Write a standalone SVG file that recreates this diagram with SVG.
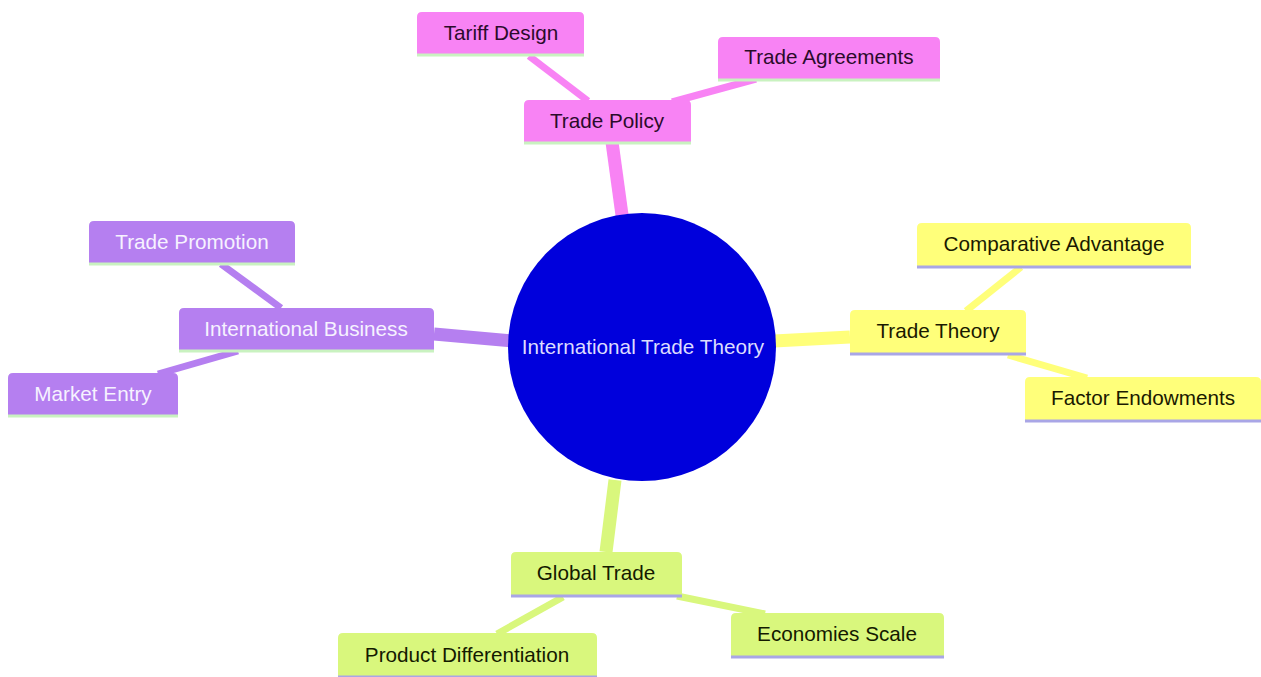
<svg xmlns="http://www.w3.org/2000/svg" width="1261" height="677" viewBox="0 0 1261 677">
<style>
text{font-family:"Liberation Sans",Arial,sans-serif;font-size:20.7px;text-anchor:middle}
.pink{fill:#f883f4}.pinkt{fill:#2b0b2b}
.purp{fill:#b57ff0}.purpt{fill:#f6f2ff}
.yel{fill:#ffff7a}.yelt{fill:#1a1a00}
.grn{fill:#d9f77d}.grnt{fill:#141a00}
.bl-g{stroke:#c9f2c0;stroke-width:3}
.bl-l{stroke:#a9a6e6;stroke-width:3}
.e{fill:none;stroke-linecap:butt}
.e0{stroke-width:13}.e1{stroke-width:7}
</style>
<rect width="1261" height="677" fill="#ffffff"/>
<g id="connectors">
<line class="e e0" x1="622" y1="215" x2="612" y2="142" stroke="#f883f4"/>
<line class="e e1" x1="588" y1="101" x2="529" y2="56" stroke="#f883f4"/>
<line class="e e1" x1="672" y1="102" x2="756" y2="79" stroke="#f883f4"/>
<line class="e e0" x1="512" y1="341" x2="434" y2="334" stroke="#b57ff0"/>
<line class="e e1" x1="281" y1="308" x2="221" y2="264" stroke="#b57ff0"/>
<line class="e e1" x1="238" y1="351" x2="158" y2="374" stroke="#b57ff0"/>
<line class="e e0" x1="774" y1="341" x2="850" y2="337" stroke="#ffff7a"/>
<line class="e e1" x1="966" y1="311" x2="1021" y2="267" stroke="#ffff7a"/>
<line class="e e1" x1="1008" y1="355" x2="1087" y2="378" stroke="#ffff7a"/>
<line class="e e0" x1="615" y1="480" x2="606" y2="552" stroke="#d9f77d"/>
<line class="e e1" x1="563" y1="597" x2="497" y2="634" stroke="#d9f77d"/>
<line class="e e1" x1="677" y1="596" x2="765" y2="614" stroke="#d9f77d"/>
</g>
<g id="root">
<circle cx="642" cy="347" r="134" fill="#0000dc"/>
<text x="643" y="354" fill="#dcdcff">International Trade Theory</text>
</g>
<g id="trade-policy">
<path class="pink" d="M524 142V105q0-5 5-5h157q5 0 5 5v37z"/>
<line class="bl-g" x1="524" y1="143" x2="691" y2="143"/>
<text class="pinkt" x="607" y="128">Trade Policy</text>
</g>
<g id="tariff-design">
<path class="pink" d="M417 54V17q0-5 5-5h157q5 0 5 5v37z"/>
<line class="bl-g" x1="417" y1="55" x2="584" y2="55"/>
<text class="pinkt" x="501" y="40">Tariff Design</text>
</g>
<g id="trade-agreements">
<path class="pink" d="M718 79V42q0-5 5-5h212q5 0 5 5v37z"/>
<line class="bl-g" x1="718" y1="80" x2="940" y2="80"/>
<text class="pinkt" x="829" y="64">Trade Agreements</text>
</g>
<g id="international-business">
<path class="purp" d="M179 350V313q0-5 5-5h245q5 0 5 5v37z"/>
<line class="bl-g" x1="179" y1="351" x2="434" y2="351"/>
<text class="purpt" x="306" y="336">International Business</text>
</g>
<g id="trade-promotion">
<path class="purp" d="M89 263V226q0-5 5-5h196q5 0 5 5v37z"/>
<line class="bl-g" x1="89" y1="264" x2="295" y2="264"/>
<text class="purpt" x="192" y="249">Trade Promotion</text>
</g>
<g id="market-entry">
<path class="purp" d="M8 415V378q0-5 5-5h160q5 0 5 5v37z"/>
<line class="bl-g" x1="8" y1="416" x2="178" y2="416"/>
<text class="purpt" x="93" y="401">Market Entry</text>
</g>
<g id="trade-theory">
<path class="yel" d="M850 353V315q0-5 5-5h166q5 0 5 5v38z"/>
<line class="bl-l" x1="850" y1="354" x2="1026" y2="354"/>
<text class="yelt" x="938" y="338">Trade Theory</text>
</g>
<g id="comparative-advantage">
<path class="yel" d="M917 266V228q0-5 5-5h264q5 0 5 5v38z"/>
<line class="bl-l" x1="917" y1="267" x2="1191" y2="267"/>
<text class="yelt" x="1054" y="251">Comparative Advantage</text>
</g>
<g id="factor-endowments">
<path class="yel" d="M1025 420V382q0-5 5-5h226q5 0 5 5v38z"/>
<line class="bl-l" x1="1025" y1="421" x2="1261" y2="421"/>
<text class="yelt" x="1143" y="405">Factor Endowments</text>
</g>
<g id="global-trade">
<path class="grn" d="M511 595V557q0-5 5-5h161q5 0 5 5v38z"/>
<line class="bl-l" x1="511" y1="596" x2="682" y2="596"/>
<text class="grnt" x="596" y="580">Global Trade</text>
</g>
<g id="economies-scale">
<path class="grn" d="M731 656V618q0-5 5-5h203q5 0 5 5v38z"/>
<line class="bl-l" x1="731" y1="657" x2="944" y2="657"/>
<text class="grnt" x="837" y="641">Economies Scale</text>
</g>
<g id="product-differentiation">
<path class="grn" d="M338 676V638q0-5 5-5h249q5 0 5 5v38z"/>
<line class="bl-l" x1="338" y1="677" x2="597" y2="677"/>
<text class="grnt" x="467" y="662">Product Differentiation</text>
</g>
</svg>
